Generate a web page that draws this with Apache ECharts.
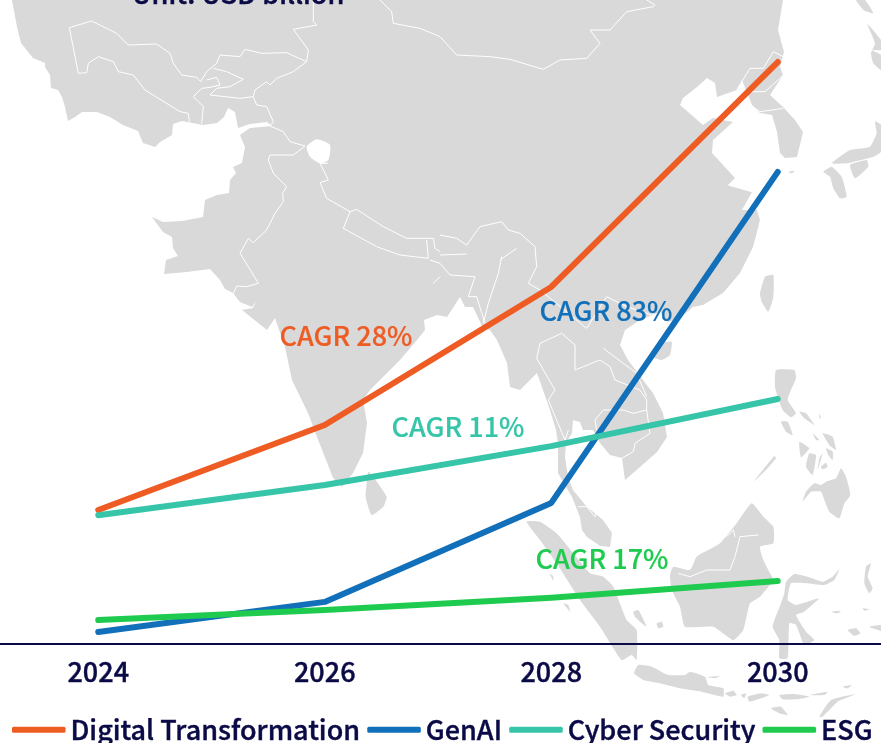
<!DOCTYPE html>
<html>
<head>
<meta charset="utf-8">
<style>
  html, body { margin: 0; padding: 0; background: #fff; }
  #chart { width: 881px; height: 743px; }
</style>
<script src="https://cdn.jsdelivr.net/npm/echarts@6/dist/echarts.min.js"></script>
</head>
<body>
<div id="chart"></div>
<script>
const years = ['2024', '2026', '2028', '2030']
// every series runs on its own hidden scale in the source chart
const digital = [1063, 1738, 2833, 4618]
const genAI = [38, 134, 449, 1502]
const cyber = [205, 253, 315, 390]
const esg = [0.95, 1.35, 1.83, 2.5]
const endLabels = ['4,618', '1,502', '390', '2.5']
const seriesNames = ['Digital Transformation', 'GenAI', 'Cyber Security', 'ESG']
const colors = ['#EE5C24', '#1170B9', '#36C5A8', '#1ECB4F']
const axisMax = [4761, 1909, 955, 23.8]
const fontName = '"Noto Sans CJK JP", "Noto Sans", sans-serif'
const navy = '#0A0A46'
const mapGrey = '#D9D9D9'

// background map, traced by hand (page pixels)
const mainland = [[12,0],[17,27],[21,43],[33,58],[45,63],[45,67],[50,75],[51,88],[58,90],[62,97],[65,107],[68,121],[75,117],[82,112],[97,112],[110,117],[123,125],[138,131],[143,143],[155,147],[160,142],[172,135],[173,124],[182,121],[203,125],[217,123],[224,117],[228,108],[235,112],[238,128],[250,124],[267,122],[272,126],[250,128],[240,135],[245,147],[242,163],[233,167],[236,173],[230,180],[229,193],[217,195],[205,200],[203,217],[182,221],[163,222],[152,217],[163,232],[172,237],[173,248],[178,256],[166,260],[164,274],[187,272],[210,269],[220,280],[225,289],[233,293],[240,302],[252,307],[256,301],[253,308],[242,310],[257,322],[267,330],[275,318],[285,347],[292,380],[308,413],[317,437],[330,470],[333,478],[342,487],[353,473],[363,453],[367,423],[363,400],[370,390],[383,377],[400,360],[417,340],[425,330],[424,320],[437,315],[447,317],[460,297],[465,307],[473,307],[483,328],[490,330],[497,340],[507,363],[510,387],[520,390],[530,380],[537,373],[543,390],[550,410],[556,430],[558,443],[558,473],[572,497],[580,517],[582,530],[587,537],[600,546],[610,547],[612,533],[603,520],[597,515],[587,507],[573,490],[568,477],[565,457],[566,443],[572,433],[573,420],[580,422],[583,430],[593,430],[600,443],[610,455],[622,458],[625,480],[640,467],[657,452],[667,437],[663,413],[653,393],[643,380],[628,360],[620,345],[625,330],[640,320],[660,312],[668,322],[680,318],[693,307],[703,305],[723,293],[740,273],[753,247],[760,220],[757,210],[742,210],[752,192],[728,185],[735,178],[712,153],[713,140],[733,122],[713,118],[703,125],[680,105],[683,98],[697,87],[707,78],[715,83],[717,97],[737,90],[742,80],[752,105],[760,113],[772,115],[777,132],[780,153],[785,158],[797,157],[803,132],[795,120],[783,107],[770,95],[783,75],[780,67],[784,52],[778,30],[783,0]]

// islands: [offsetX, offsetY, points at 3x]
const islands = [
  [0, 330, [[1105,425],[1120,440],[1160,500],[1150,530],[1115,555],[1097,500],[1100,460]]],
  [440, 0, [[960,880],[975,830],[1000,825],[1000,890],[985,935],[965,905]]],
  // Japan and the north
  [740, 0, [[348,0],[375,0],[400,40],[370,30]]],
  [740, 0, [[382,72],[423,120],[423,150],[395,150],[423,165],[423,210],[400,190],[393,160],[405,130]]],
  [740, 0, [[423,375],[405,365],[410,400],[390,440],[330,450],[275,490],[320,490],[400,470],[423,455]]],
  [740, 0, [[250,515],[275,500],[305,530],[320,590],[300,595],[280,565],[270,530]]],
  [740, 0, [[330,495],[380,480],[385,500],[345,535]]],
  [740, 0, [[145,515],[165,512],[155,520]]],
  [440, 330, [[640,80],[660,40],[695,35],[690,75],[665,90]]],
  // Sumatra and neighbours
  [440, 330, [[260,575],[300,575],[350,610],[400,670],[450,730],[490,740],[520,770],[560,870],[590,900],[590,990],[575,975],[545,990],[480,890],[420,810],[350,700],[300,630]]],
  [520, 560, [[340,155],[355,150],[380,200],[360,185],[345,170]]],
  [520, 560, [[410,190],[425,185],[430,200],[415,205]]],
  [520, 560, [[130,130],[145,135],[150,155]]],
  [520, 560, [[88,38],[100,50],[100,62]]],
  // Borneo
  [440, 330, [[690,735],[700,710],[750,720],[770,680],[840,640],[890,580],[935,520],[970,560],[1000,590],[1000,640],[960,650],[970,690],[990,730],[1000,750],[960,800],[930,820],[910,900],[880,930],[820,890],[735,890],[720,830],[695,780]]],
  // Sulawesi and the Moluccas
  [741, 560, [[130,100],[135,65],[160,42],[200,50],[245,65],[275,50],[295,28],[280,60],[250,75],[195,70],[150,70],[140,120],[165,135],[215,120],[235,115],[190,155],[165,165],[195,215],[220,240],[190,255],[165,195],[145,190],[140,295],[115,295],[115,240],[95,200],[120,130]]],
  [741, 560, [[375,20],[390,10],[380,50],[395,85],[385,100],[370,70]]],
  [741, 560, [[270,155],[300,152],[290,160]]],
  [741, 560, [[365,145],[385,148],[370,152]]],
  [741, 560, [[320,210],[345,205],[358,220],[340,228]]],
  [741, 560, [[385,200],[420,195],[420,212]]],
  // Java and the lesser Sunda chain
  [520, 560, [[342,340],[355,315],[395,320],[445,345],[495,345],[510,335],[555,350],[565,375],[610,385],[610,410],[545,395],[480,385],[420,370],[370,360]]],
  [520, 560, [[615,400],[640,392],[650,405],[630,410]]],
  [520, 560, [[560,352],[600,348],[585,355]]],
  [741, 560, [[0,405],[15,400],[10,415]]],
  [741, 560, [[20,410],[60,400],[85,405],[60,415],[25,425]]],
  [741, 560, [[115,405],[160,402],[205,410],[165,418],[125,418]]],
  [741, 560, [[205,405],[260,395],[250,405]]],
  [741, 560, [[90,445],[120,440],[140,465],[115,460]]],
  [741, 560, [[235,470],[270,420],[345,402],[290,425],[245,470]]],
  [741, 560, [[305,380],[332,375],[320,385]]],
  // Philippines
  [741, 370, [[105,0],[160,0],[165,25],[150,60],[140,90],[165,130],[150,142],[125,120],[110,80],[102,50]]],
  [741, 370, [[120,155],[140,155],[155,195],[135,185]]],
  [741, 370, [[175,125],[195,130],[220,165],[190,145]]],
  [741, 370, [[235,130],[240,145],[235,145]]],
  [741, 370, [[245,190],[275,200],[285,240],[265,225]]],
  [741, 370, [[215,190],[235,210],[225,210]]],
  [741, 370, [[175,215],[205,235],[180,262]]],
  [741, 370, [[205,250],[225,255],[215,315],[195,290]]],
  [741, 370, [[235,265],[245,250],[230,300]]],
  [741, 370, [[240,290],[255,278],[260,290],[245,298]]],
  [741, 370, [[255,235],[275,245],[275,270],[262,255]]],
  [741, 370, [[185,395],[195,365],[220,340],[240,345],[255,335],[285,325],[300,295],[315,320],[328,375],[310,400],[295,445],[265,425],[250,390],[240,365],[210,365]]],
  [741, 370, [[38,335],[100,258],[105,265],[75,300]]],
]

// white patch on the Kashmir side
const holes = [
  [0, 0, [[920,440],[950,418],[990,435],[985,480],[960,490],[930,470]]],
]

// country borders: [offsetX, offsetY, points at 3x]
const borders = [
  [0, 0, [[208,83],[275,63],[350,100],[385,135],[470,132],[510,160],[520,190],[545,225],[590,232],[602,245],[620,215],[650,190],[660,165],[720,170],[735,148],[785,160],[860,158],[920,185],[880,215],[830,235],[810,255],[800,245],[765,270],[760,290],[770,315],[800,320],[820,365],[810,378],[850,395],[870,425],[915,438]]],
  [0, 0, [[208,83],[235,220],[260,218],[265,190],[295,170],[340,185],[355,215],[400,225],[435,270],[540,335],[565,340],[568,365]]],
  [0, 0, [[640,205],[680,215],[730,238],[690,260],[650,265],[630,285],[720,295],[760,290]]],
  [0, 0, [[620,240],[650,232],[660,255],[630,262],[605,265],[580,290],[610,320],[605,372]]],
  [0, 0, [[940,0],[940,65],[950,75],[880,88],[925,150],[920,185]]],
  [0, 0, [[1140,0],[1175,35],[1180,70],[1260,85],[1320,110]]],
  [440, 0, [[0,110],[50,165],[150,170],[210,178],[310,208],[360,180],[440,175],[480,130],[450,90],[510,90],[560,35],[640,20],[645,15],[620,0]]],
  [0, 0, [[915,438],[880,465],[810,465],[805,480],[820,520],[860,560],[848,580],[850,605],[825,640],[800,690],[760,728],[745,715],[720,760],[745,800],[775,850],[740,860],[710,858],[700,880]]],
  [0, 0, [[985,490],[960,490],[985,540],[960,548],[980,595],[1050,635],[1070,628],[1150,680],[1220,715],[1300,715],[1305,745],[1320,755]]],
  [0, 0, [[1050,635],[1030,685],[1130,740],[1200,765],[1285,775],[1280,720]]],
  [0, 0, [[1290,780],[1320,790]]],
  [0, 0, [[1300,850],[1320,830]]],
  [440, 0, [[0,705],[50,715],[80,735],[120,680],[185,665],[205,690],[240,700],[285,740],[290,800],[265,850],[300,870]]],
  [440, 0, [[0,765],[80,762]]],
  [440, 0, [[180,780],[230,745]]],
  [440, 0, [[0,790],[30,825],[105,830],[85,890],[110,890],[135,970]]],
  [440, 0, [[130,970],[145,910],[175,820],[185,770]]],
  [440, 0, [[300,870],[440,985]]],
  [440, 0, [[440,985],[500,890],[560,920],[650,950]]],
  [440, 330, [[300,40],[365,10],[405,45],[405,120],[480,90],[510,110],[525,150],[600,180],[620,210],[620,240],[580,250],[550,240],[490,240],[465,270],[470,300]]],
  [440, 330, [[300,40],[290,85],[345,180],[325,210],[350,270],[375,330],[385,300]]],
  [440, 330, [[490,55],[590,130],[620,200]]],
  [440, 330, [[620,240],[630,310],[585,340],[580,365],[545,385]]],
  [440, 330, [[415,530],[440,530],[465,560],[470,540]]],
  [440, 0, [[890,270],[930,205],[970,205],[1000,155],[1030,170]]],
  [440, 0, [[935,275],[975,275],[1020,235],[1030,225]]],
  [740, 0, [[36,318],[60,335],[95,330],[130,325]]],
  [440, 0, [[865,555],[935,575]]],
  [440, 330, [[715,730],[750,740],[800,720],[870,720],[885,680],[900,620],[955,615]]],
  [440, 330, [[860,620],[880,600],[885,620]]],
]

const cagrNotes = [
  { text: 'CAGR 28%', x: 346, y: 336, color: colors[0] },
  { text: 'CAGR 83%', x: 606, y: 311, color: colors[1] },
  { text: 'CAGR 11%', x: 458, y: 427, color: colors[2] },
  { text: 'CAGR 17%', x: 602, y: 559, color: colors[3] },
]

const toPage = item => item[2].map(p => [item[0] + p[0] / 3, item[1] + p[1] / 3])

const mapGraphics = [
  { type: 'polygon', silent: true, z: -1, shape: { points: mainland }, style: { fill: mapGrey } },
  ...islands.map(item => ({ type: 'polygon', silent: true, z: -1, shape: { points: toPage(item), smooth: 0.15 }, style: { fill: mapGrey } })),
  ...holes.map(item => ({ type: 'polygon', silent: true, z: -1, shape: { points: toPage(item), smooth: 0.2 }, style: { fill: '#fff' } })),
  ...borders.map(item => ({ type: 'polyline', silent: true, z: -1, shape: { points: toPage(item) }, style: { stroke: '#fff', lineWidth: 1, fill: null } })),
]

const noteGraphics = cagrNotes.map(n => ({
  type: 'text', silent: true, z: 10, x: n.x, y: n.y,
  style: { text: n.text, fill: n.color, stroke: n.color, lineWidth: 0.2, font: '500 27px ' + fontName, textAlign: 'center', textVerticalAlign: 'middle' },
}))

const unitGraphic = {
  type: 'text', silent: true, z: 10, x: 238, y: -6,
  style: { text: 'Unit: USD billion', fill: navy, stroke: navy, lineWidth: 0.5, font: '500 27px ' + fontName, textAlign: 'center', textVerticalAlign: 'middle' },
}

const labelOffset = [25, 15, 22, 23]
const buildData = (values, idx) => values.map((v, i) => ({
  value: v,
  label: i === values.length - 1
    ? { show: true, position: 'top', distance: labelOffset[idx], formatter: endLabels[idx], color: colors[idx], textBorderColor: colors[idx], textBorderWidth: 0.2, fontFamily: fontName, fontSize: 27, fontWeight: 500 }
    : { show: false },
}))

const allSeries = [digital, genAI, cyber, esg].map((values, idx) => ({
  name: seriesNames[idx],
  type: 'line',
  yAxisIndex: idx,
  symbol: 'none',
  animation: false,
  z: 3 + idx,
  lineStyle: { color: colors[idx], width: 6, cap: 'round', join: 'round' },
  itemStyle: { color: colors[idx] },
  data: buildData(values, idx),
}))

const chart = echarts.init(document.getElementById('chart'))
chart.setOption({
  backgroundColor: '#fff',
  animation: false,
  legend: {
    left: 12,
    top: 716,
    width: 900,
    icon: 'roundRect',
    itemWidth: 53.5,
    itemHeight: 6,
    itemGap: 7,
    padding: 0,
    textStyle: { color: navy, textBorderColor: navy, textBorderWidth: 0.4, fontFamily: fontName, fontSize: 27, fontWeight: 500 },
    data: seriesNames,
  },
  grid: { left: -15, width: 906, top: 44, height: 600, outerBoundsMode: 'none' },
  xAxis: {
    type: 'category',
    data: years,
    z: 5,
    axisLine: { lineStyle: { color: navy, width: 2 } },
    axisTick: { show: false },
    axisLabel: { color: navy, textBorderColor: navy, textBorderWidth: 0.4, fontFamily: fontName, fontSize: 27, fontWeight: 500, margin: 14 },
  },
  yAxis: axisMax.map(m => ({ type: 'value', min: 0, max: m, show: false })),
  graphic: [...mapGraphics, ...noteGraphics, unitGraphic],
  series: allSeries,
})
</script>
</body>
</html>
